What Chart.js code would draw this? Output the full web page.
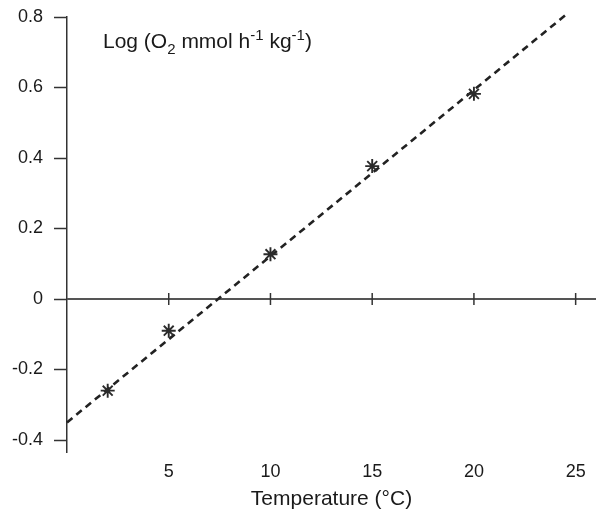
<!DOCTYPE html>
<html>
<head>
<meta charset="utf-8">
<script src="https://cdn.jsdelivr.net/npm/chart.js@4.4.1/dist/chart.umd.min.js"></script>
<style>
  html, body { margin: 0; padding: 0; background: #fff; }
  #wrap { width: 596px; height: 514px; }
</style>
</head>
<body>
<div id="wrap"><canvas id="o2Canvas"></canvas></div>
<script>
// measured points (temperature °C, log O2 consumption)
const temps = [2, 5, 10, 15, 20];
const logO2 = [-0.26, -0.09, 0.127, 0.377, 0.582];

// regression line end points
const fitX = [0, 24.6];
const fitY = [-0.35, 0.81];

const xTicks = [5, 10, 15, 20, 25];
const yTicks = [-0.4, -0.2, 0, 0.2, 0.4, 0.6, 0.8];

const FONT = "'Liberation Sans', Arial, Helvetica, sans-serif";
const INK = "#2b2b2b";

// horizontal axis through y = 0 with crossing tick marks
const zeroAxis = {
  id: "zeroAxis",
  beforeDatasetsDraw(chart) {
    const { ctx, chartArea, scales } = chart;
    const y0 = scales.y.getPixelForValue(0);
    ctx.save();
    ctx.strokeStyle = "#555";
    ctx.lineWidth = 2;
    ctx.beginPath();
    ctx.moveTo(chartArea.left, y0);
    ctx.lineTo(chartArea.right, y0);
    ctx.stroke();
    ctx.lineWidth = 1.5;
    ctx.strokeStyle = "#333";
    xTicks.forEach((v) => {
      const x = scales.x.getPixelForValue(v);
      ctx.beginPath();
      ctx.moveTo(x, y0 - 6);
      ctx.lineTo(x, y0 + 6);
      ctx.stroke();
    });
    ctx.restore();
  },
};

// y axis label written inside the plot, with sub/superscripts
const yLabel = {
  id: "yLabel",
  afterDraw(chart) {
    const ctx = chart.ctx;
    const parts = [
      ["Log (O", 0, 21],
      ["2", 6, 15],
      [" mmol h", 0, 21],
      ["-1", -8, 15],
      [" kg", 0, 21],
      ["-1", -8, 15],
      [")", 0, 21],
    ];
    let x = 103;
    const base = 48;
    ctx.save();
    ctx.fillStyle = "#1a1a1a";
    ctx.textBaseline = "alphabetic";
    ctx.textAlign = "left";
    parts.forEach(([txt, dy, size]) => {
      ctx.font = size + "px " + FONT;
      ctx.fillText(txt, x, base + dy);
      x += ctx.measureText(txt).width;
    });
    ctx.restore();
  },
};

new Chart(document.getElementById("o2Canvas"), {
  type: "scatter",
  data: {
    datasets: [
      {
        data: temps.map((t, i) => ({ x: t, y: logO2[i] })),
        pointStyle: "star",
        pointRadius: 7,
        pointBorderWidth: 1.9,
        borderColor: INK,
        backgroundColor: INK,
        showLine: false,
      },
      {
        data: fitX.map((t, i) => ({ x: t, y: fitY[i] })),
        showLine: true,
        borderColor: "#222",
        borderWidth: 2.6,
        borderDash: [7, 5],
        pointRadius: 0,
        clip: false,
      },
    ],
  },
  options: {
    responsive: true,
    maintainAspectRatio: false,
    animation: false,
    layout: {
      autoPadding: false,
      padding: { top: 17, right: 0, bottom: 0, left: 0 },
    },
    plugins: {
      legend: { display: false },
      tooltip: { enabled: false },
    },
    scales: {
      x: {
        type: "linear",
        min: 0,
        max: 26,
        afterBuildTicks: (axis) => {
          axis.ticks = xTicks.map((v) => ({ value: v }));
        },
        afterFit: (axis) => {
          axis.height = 62;
          axis.paddingLeft = 0;
          axis.paddingRight = 0;
        },
        grid: { display: false, drawTicks: false },
        border: { display: false },
        ticks: {
          color: "#1a1a1a",
          padding: 9,
          font: { family: FONT, size: 18 },
        },
        title: {
          display: true,
          text: "Temperature (°C)",
          color: "#1a1a1a",
          font: { family: FONT, size: 21 },
          padding: { top: 4, bottom: 2 },
        },
      },
      y: {
        type: "linear",
        min: -0.434,
        max: 0.8,
        afterBuildTicks: (axis) => {
          axis.ticks = yTicks.map((v) => ({ value: v }));
        },
        afterFit: (axis) => {
          axis.width = 67;
          axis.paddingTop = 0;
          axis.paddingBottom = 0;
        },
        grid: {
          drawOnChartArea: false,
          tickLength: 13,
          tickWidth: 1.5,
          color: "#333",
        },
        border: { display: true, color: "#333", width: 1.5 },
        ticks: {
          color: "#1a1a1a",
          padding: 11,
          font: { family: FONT, size: 18 },
          callback: (v) => (v === 0 ? "0" : v.toFixed(1)),
        },
      },
    },
  },
  plugins: [zeroAxis, yLabel],
});
</script>
</body>
</html>
